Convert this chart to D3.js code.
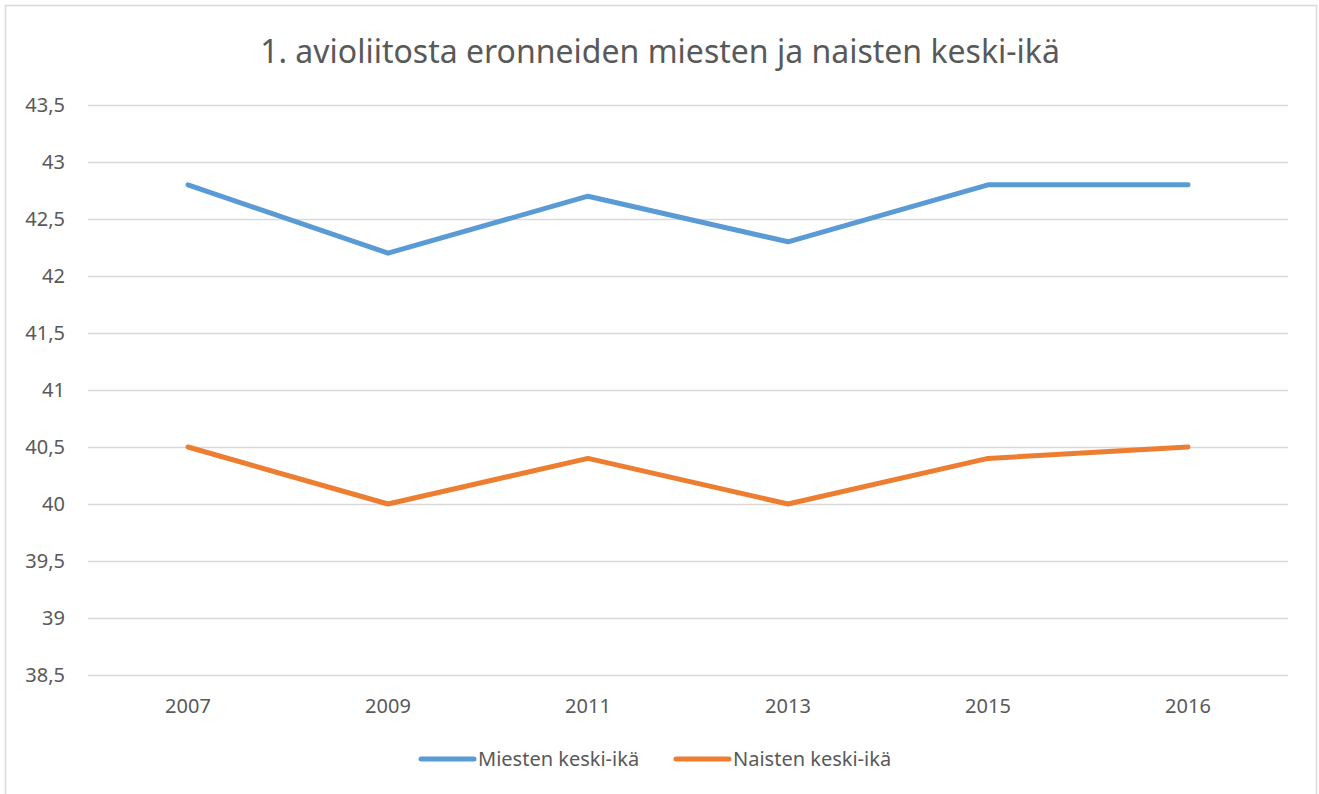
<!DOCTYPE html>
<html>
<head>
<meta charset="utf-8">
<script src="https://cdn.jsdelivr.net/npm/d3@7"></script>
<style>
  body { margin: 0; background: #fff; }
  text { font-family: "Noto Sans", "Liberation Sans", sans-serif; fill: #595959; }
</style>
</head>
<body>
<div id="chart"></div>
<script>
const years = ["2007", "2009", "2011", "2013", "2015", "2016"];
const miehet = [42.8, 42.2, 42.7, 42.3, 42.8, 42.8];
const naiset = [40.5, 40.0, 40.4, 40.0, 40.4, 40.5];
const seriesNames = ["Miesten keski-ikä", "Naisten keski-ikä"];
const seriesColors = ["#5B9BD5", "#ED7D31"];
const yTicks = [38.5, 39, 39.5, 40, 40.5, 41, 41.5, 42, 42.5, 43, 43.5];

const W = 1319, H = 794;
const svg = d3.select("#chart").append("svg")
    .attr("width", W)
    .attr("height", H);

svg.append("rect")
    .attr("x", 5.5).attr("y", 5.5)
    .attr("width", 1311).attr("height", 800)
    .attr("fill", "#fff")
    .attr("stroke", "#D9D9D9")
    .attr("stroke-width", 1.5);

svg.append("text")
    .attr("x", 660).attr("y", 63)
    .attr("text-anchor", "middle")
    .style("font-size", "32px")
    .text("1. avioliitosta eronneiden miesten ja naisten keski-ikä");

const x = d3.scaleBand().domain(years).range([88, 1288]);
const y = d3.scaleLinear().domain([38.5, 43.5]).range([675, 105]);

// gridlines
svg.append("g").selectAll("line")
    .data(yTicks)
    .enter()
    .append("line")
    .attr("x1", 88).attr("x2", 1288)
    .attr("y1", d => Math.round(y(d)) + 0.5)
    .attr("y2", d => Math.round(y(d)) + 0.5)
    .attr("stroke", "#D9D9D9")
    .attr("stroke-width", 1.5);

// y labels
const fmt = d => String(d).replace(".", ",");
svg.append("g").selectAll("text")
    .data(yTicks)
    .enter()
    .append("text")
    .attr("x", 65)
    .attr("y", d => y(d))
    .attr("dy", "0.35em")
    .attr("text-anchor", "end")
    .style("font-size", "20px")
    .text(fmt);

// x labels
svg.append("g").selectAll("text")
    .data(years)
    .enter()
    .append("text")
    .attr("x", d => x(d) + x.bandwidth() / 2)
    .attr("y", 706)
    .attr("dy", "0.35em")
    .attr("text-anchor", "middle")
    .style("font-size", "20px")
    .text(d => d);

const line = d3.line()
    .x((d, i) => x(years[i]) + x.bandwidth() / 2)
    .y(d => y(d));

[miehet, naiset].forEach((s, k) => {
    svg.append("path")
        .datum(s)
        .attr("d", line)
        .attr("fill", "none")
        .attr("stroke", seriesColors[k])
        .attr("stroke-width", 5)
        .attr("stroke-linejoin", "round")
        .attr("stroke-linecap", "round");
});

// legend
const legendX = [421, 676];
seriesNames.forEach((name, k) => {
    const g = svg.append("g").attr("transform", `translate(${legendX[k]},759)`);
    g.append("line")
        .attr("x1", 0).attr("x2", 53)
        .attr("stroke", seriesColors[k])
        .attr("stroke-width", 5)
        .attr("stroke-linecap", "round");
    g.append("text")
        .attr("x", 57)
        .attr("dy", "0.35em")
        .style("font-size", "20px")
        .text(name);
});
</script>
</body>
</html>
